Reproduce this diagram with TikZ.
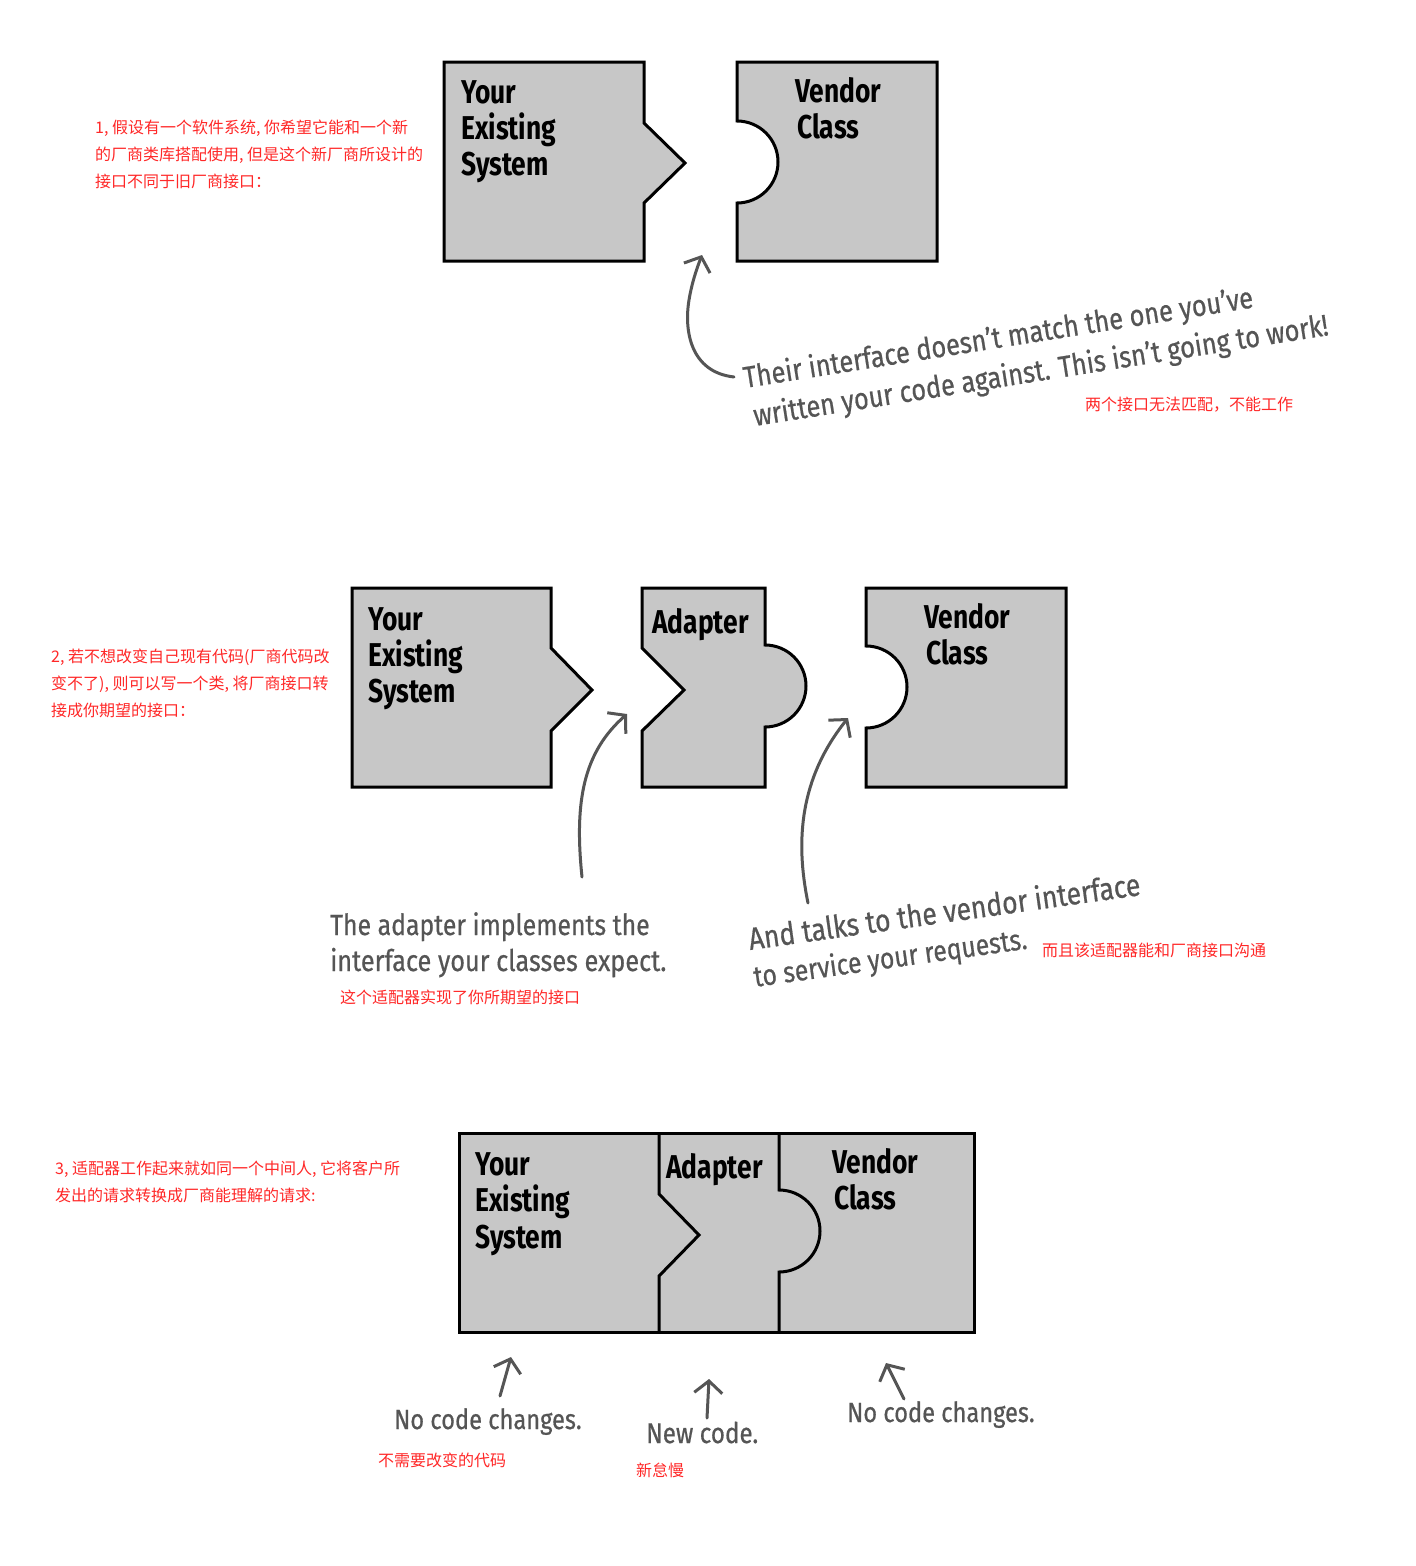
\documentclass[tikz,border=0pt]{standalone}
\usepackage{fontspec}
\usetikzlibrary{arrows.meta}
\newfontfamily\cjk{Noto Sans CJK SC}
\newfontfamily\boxfont{Fira Sans}[FakeStretch=0.8]
\newfontfamily\handfont{Fira Sans}[FakeStretch=0.85,FakeBold=0.6]
\definecolor{boxgray}{RGB}{199,199,199}
\definecolor{handgray}{RGB}{85,85,85}
\definecolor{notered}{RGB}{255,40,40}
\tikzset{
  puzzle/.style={draw=black, line width=3pt, fill=boxgray, line join=miter},
  lbl/.style={anchor=base west, inner sep=0pt, font=\boxfont\bfseries\fontsize{33}{38}\selectfont},
  hand/.style={anchor=base west, inner sep=0pt, text=handgray, font=\handfont\fontsize{30}{36}\selectfont},
  handsize/.style={font=\handfont\fontsize{#1}{36}\selectfont},
  note/.style={anchor=base west, inner sep=0pt, text=notered, font=\cjk\fontsize{16}{27}\selectfont},
  pointer/.style={draw=handgray, line width=3pt, line cap=round, line join=round,
    -{Straight Barb[length=12pt,width=28pt]}}
}
\begin{document}
\begin{tikzpicture}[x=1pt,y=-1pt]
\useasboundingbox[fill=white] (0,0) rectangle (1416,1566);

% ---------- panel 1 ----------
\draw[puzzle] (444,62) -- (644,62) -- (644,123) -- (685,163) -- (644,203) -- (644,261) -- (444,261) -- cycle;
\draw[puzzle] (737,62) -- (937,62) -- (937,261) -- (737,261) -- (737,203)
  arc[start angle=-90,end angle=90,radius=41pt] -- cycle;
\node[lbl] (p1y) at (461,103) {Your};
\node[lbl] (p1e) at (461,139) {Existing};
\node[lbl] (p1s) at (461,175) {System};
\node[lbl] (p1v) at (795,102) {Vendor};
\node[lbl] (p1c) at (797,138) {Class};

\node[note] (n1a) at (95,133) {1, 假设有一个软件系统, 你希望它能和一个新};
\node[note] (n1b) at (95,160) {的厂商类库搭配使用, 但是这个新厂商所设计的};
\node[note] (n1c) at (95,187) {接口不同于旧厂商接口：};

\node[hand, rotate=9] (h1a) at (745,388) {Their interface doesn’t match the one you’ve};
\node[hand, rotate=9] (h1b) at (755,426) {written your code against. This isn’t going to work!};
\node[note] (n1d) at (1085,410) {两个接口无法匹配，不能工作};

\coordinate (a1s) at (734,377);
\coordinate (a1t) at (702,255);
\draw[pointer] (a1s) .. controls (690,372) and (684,330) .. (689,300) .. controls (692,282) and (697,268) .. (a1t);

% ---------- panel 2 ----------
\draw[puzzle] (352,588) -- (551,588) -- (551,648) -- (592,690) -- (551,731) -- (551,787) -- (352,787) -- cycle;
\draw[puzzle] (642,588) -- (765,588) -- (765,645)
  arc[start angle=90,end angle=-90,radius=41pt] -- (765,787) -- (642,787) -- (642,731) -- (684,690) -- (642,648) -- cycle;
\draw[puzzle] (866,588) -- (1066,588) -- (1066,787) -- (866,787) -- (866,728)
  arc[start angle=-90,end angle=90,radius=41pt] -- cycle;
\node[lbl] (p2y) at (368,630) {Your};
\node[lbl] (p2e) at (368,666) {Existing};
\node[lbl] (p2s) at (368,702) {System};
\node[lbl] (p2a) at (652,633) {Adapter};
\node[lbl] (p2v) at (924,628) {Vendor};
\node[lbl] (p2c) at (926,664) {Class};

\node[note] (n2a) at (51,662) {2, 若不想改变自己现有代码(厂商代码改};
\node[note] (n2b) at (51,689) {变不了), 则可以写一个类, 将厂商接口转};
\node[note] (n2c) at (51,716) {接成你期望的接口：};

\coordinate (a2s) at (582,877);
\coordinate (a2t) at (627,714);
\draw[pointer] (a2s) .. controls (574,800) and (584,752) .. (a2t);
\coordinate (a3s) at (808,903);
\coordinate (a3t) at (848,718);
\draw[pointer] (a3s) .. controls (795,840) and (800,778) .. (a3t);

\node[hand, handsize=29.2] (h2a) at (330,935) {The adapter implements the};
\node[hand, handsize=29.7] (h2b) at (330,971) {interface your classes expect.};
\node[note] (n2d) at (340,1003) {这个适配器实现了你所期望的接口};
\node[hand, handsize=31.3, rotate=8] (h3a) at (750,950) {And talks to the vendor interface};
\node[hand, handsize=29.2, rotate=8] (h3b) at (755,987) {to service your requests.};
\node[note] (n2e) at (1042,956) {而且该适配器能和厂商接口沟通};

% ---------- panel 3 ----------
\path[puzzle] (459,1133) rectangle (974,1332);
\draw[black, line width=3pt, line join=miter] (659,1133) -- (659,1194) -- (699,1235) -- (659,1276) -- (659,1332);
\draw[black, line width=3pt] (779,1133) -- (779,1190)
  arc[start angle=90,end angle=-90,radius=41pt] -- (779,1332);
\node[lbl] (p3y) at (475,1175) {Your};
\node[lbl] (p3e) at (475,1211) {Existing};
\node[lbl] (p3s) at (475,1248) {System};
\node[lbl] (p3a) at (666,1178) {Adapter};
\node[lbl] (p3v) at (832,1173) {Vendor};
\node[lbl] (p3c) at (834,1209) {Class};

\node[note] (n3a) at (55,1174) {3, 适配器工作起来就如同一个中间人, 它将客户所};
\node[note] (n3b) at (55,1201) {发出的请求转换成厂商能理解的请求:};

\coordinate (b1s) at (500,1396);
\coordinate (b1t) at (511,1357);
\draw[pointer] (b1s) -- (b1t);
\coordinate (b2s) at (707,1418);
\coordinate (b2t) at (709,1379);
\draw[pointer] (b2s) -- (b2t);
\coordinate (b3s) at (904,1399);
\coordinate (b3t) at (886,1363);
\draw[pointer] (b3s) -- (b3t);

\node[hand, handsize=27.8] (h4) at (394,1429) {No code changes.};
\node[hand, handsize=28.5] (h5) at (646,1443) {New code.};
\node[hand, handsize=27.8] (h6) at (847,1422) {No code changes.};
\node[note] (n3c) at (378,1466) {不需要改变的代码};
\node[note] (n3d) at (636,1476) {新怠慢};
\end{tikzpicture}
\end{document}
